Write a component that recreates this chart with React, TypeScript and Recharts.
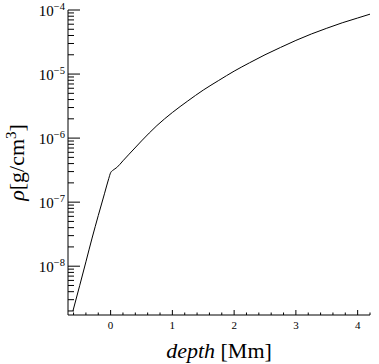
import React from "react";
import { LineChart, Line, XAxis, YAxis } from "recharts";

// depth [Mm]
const depthValues = [
  -0.61, -0.5, -0.4, -0.3, -0.2, -0.1, -0.03, 0.0, 0.04, 0.1, 0.2, 0.3, 0.5,
  0.75, 1.0, 1.25, 1.5, 1.75, 2.0, 2.25, 2.5, 2.75, 3.0, 3.25, 3.5, 3.75, 4.0,
  4.2,
];
// density rho [g/cm^3]
const rhoValues = [
  2.0e-9, 5.01e-9, 1.17e-8, 2.75e-8, 6.17e-8, 1.35e-7, 2.34e-7, 2.88e-7, 3.16e-7,
  3.47e-7, 4.42e-7, 5.62e-7, 9.02e-7, 1.57e-6, 2.51e-6, 3.8e-6, 5.62e-6,
  7.94e-6, 1.11e-5, 1.5e-5, 2.0e-5, 2.6e-5, 3.35e-5, 4.22e-5, 5.19e-5, 6.31e-5,
  7.5e-5, 8.61e-5,
];

const xTicks = [
  -0.6, -0.4, -0.2, 0, 0.2, 0.4, 0.6, 0.8, 1, 1.2, 1.4, 1.6, 1.8, 2, 2.2, 2.4,
  2.6, 2.8, 3, 3.2, 3.4, 3.6, 3.8, 4, 4.2,
];
const yTicks = [
  2e-9, 3e-9, 4e-9, 5e-9, 6e-9, 7e-9, 8e-9, 9e-9,
  1e-8, 2e-8, 3e-8, 4e-8, 5e-8, 6e-8, 7e-8, 8e-8, 9e-8,
  1e-7, 2e-7, 3e-7, 4e-7, 5e-7, 6e-7, 7e-7, 8e-7, 9e-7,
  1e-6, 2e-6, 3e-6, 4e-6, 5e-6, 6e-6, 7e-6, 8e-6, 9e-6,
  1e-5, 2e-5, 3e-5, 4e-5, 5e-5, 6e-5, 7e-5, 8e-5, 9e-5,
  1e-4,
];
const xDomain = [-0.69, 4.2];
const yDomain = [1.73e-9, 1e-4];

const data = depthValues.map((d, i) => ({ depth: d, rho: rhoValues[i] }));

const FONT = "'Liberation Serif', 'DejaVu Serif', serif";

const isMajorLog = (v: number) => {
  const e = Math.log10(v);
  return Math.abs(e - Math.round(e)) < 1e-6;
};
const isMajorLin = (v: number) => Math.abs(v - Math.round(v)) < 1e-6;

const LeftTick = (props: any) => {
  const { x, y, payload } = props;
  const v = payload.value;
  const major = isMajorLog(v);
  const e = Math.round(Math.log10(v));
  return (
    <g>
      <line x1={x} y1={y} x2={x + (major ? 12 : 6)} y2={y} stroke="#000" strokeWidth={1} />
      {major && (
        <text x={x - 3} y={y + 5.5} textAnchor="end" fontFamily={FONT} fontSize={15} fill="#000">
          10
          <tspan fontSize={10.5} dy={-5.5}>
            {"\u2212" + String(-e)}
          </tspan>
        </text>
      )}
    </g>
  );
};

const RightTick = (props: any) => {
  const { x, y, payload } = props;
  const major = isMajorLog(payload.value);
  return <line x1={x} y1={y} x2={x - (major ? 7 : 4)} y2={y} stroke="#000" strokeWidth={1} />;
};

const BottomTick = (props: any) => {
  const { x, y, payload } = props;
  const v = payload.value;
  const major = isMajorLin(v);
  return (
    <g>
      <line x1={x} y1={y} x2={x} y2={y - (major ? 5 : 2.5)} stroke="#000" strokeWidth={1} />
      {major && (
        <text x={x} y={y + 14} textAnchor="middle" fontFamily={FONT} fontSize={11} fill="#000">
          {String(Math.round(v))}
        </text>
      )}
    </g>
  );
};

const TopTick = (props: any) => {
  const { x, y, payload } = props;
  const major = isMajorLin(payload.value);
  return <line x1={x} y1={y} x2={x} y2={y + (major ? 4 : 2)} stroke="#000" strokeWidth={1} />;
};

const XTitle = (props: any) => {
  const vb = props.viewBox || {};
  const cx = vb.x + vb.width / 2;
  const by = vb.y + 43;
  return (
    <text x={cx} y={by} textAnchor="middle" fontFamily={FONT} fontSize={22} fill="#000">
      <tspan fontStyle="italic">depth</tspan>
      <tspan> [Mm]</tspan>
    </text>
  );
};

const YTitle = (props: any) => {
  const vb = props.viewBox || {};
  const bx = vb.x + 24;
  const cy = vb.y + vb.height / 2;
  return (
    <text
      x={bx}
      y={cy}
      transform={`rotate(-90, ${bx}, ${cy})`}
      textAnchor="middle"
      fontFamily={FONT}
      fontSize={22}
      fill="#000"
    >
      <tspan fontStyle="italic">ρ</tspan>
      <tspan>[g/cm</tspan>
      <tspan fontSize={15} dy={-8}>3</tspan>
      <tspan dy={8}>]</tspan>
    </text>
  );
};

export default function App() {
  return (
    <div style={{ position: "absolute", left: 0, top: 0, width: 379, height: 364, background: "#fff" }}>
      <LineChart
        width={379}
        height={364}
        data={data}
        margin={{ top: 10, right: 9, bottom: 0, left: 0 }}
      >
        <XAxis
          xAxisId="bottom"
          dataKey="depth"
          type="number"
          domain={xDomain}
          allowDataOverflow
          ticks={xTicks}
          interval={0}
          height={49}
          tickSize={0}
          tickMargin={0}
          tickLine={false}
          axisLine={{ stroke: "#000", strokeWidth: 1 }}
          tick={<BottomTick />}
          label={<XTitle />}
        />
        <XAxis
          xAxisId="top"
          orientation="top"
          dataKey="depth"
          type="number"
          domain={xDomain}
          allowDataOverflow
          ticks={xTicks}
          interval={0}
          height={0}
          tickSize={0}
          tickMargin={0}
          tickLine={false}
          axisLine={{ stroke: "#000", strokeWidth: 1 }}
          tick={<TopTick />}
        />
        <YAxis
          yAxisId="left"
          dataKey="rho"
          type="number"
          scale="log"
          domain={yDomain}
          allowDataOverflow
          ticks={yTicks}
          interval={0}
          width={68}
          tickSize={0}
          tickMargin={0}
          tickLine={false}
          axisLine={{ stroke: "#000", strokeWidth: 1 }}
          tick={<LeftTick />}
          label={<YTitle />}
        />
        <YAxis
          yAxisId="right"
          orientation="right"
          dataKey="rho"
          type="number"
          scale="log"
          domain={yDomain}
          allowDataOverflow
          ticks={yTicks}
          interval={0}
          width={0}
          tickSize={0}
          tickMargin={0}
          tickLine={false}
          axisLine={{ stroke: "#000", strokeWidth: 1 }}
          tick={<RightTick />}
        />
        <Line
          xAxisId="bottom"
          yAxisId="left"
          dataKey="rho"
          type="monotone"
          stroke="#000"
          strokeWidth={1}
          dot={false}
          isAnimationActive={false}
        />
      </LineChart>
    </div>
  );
}
